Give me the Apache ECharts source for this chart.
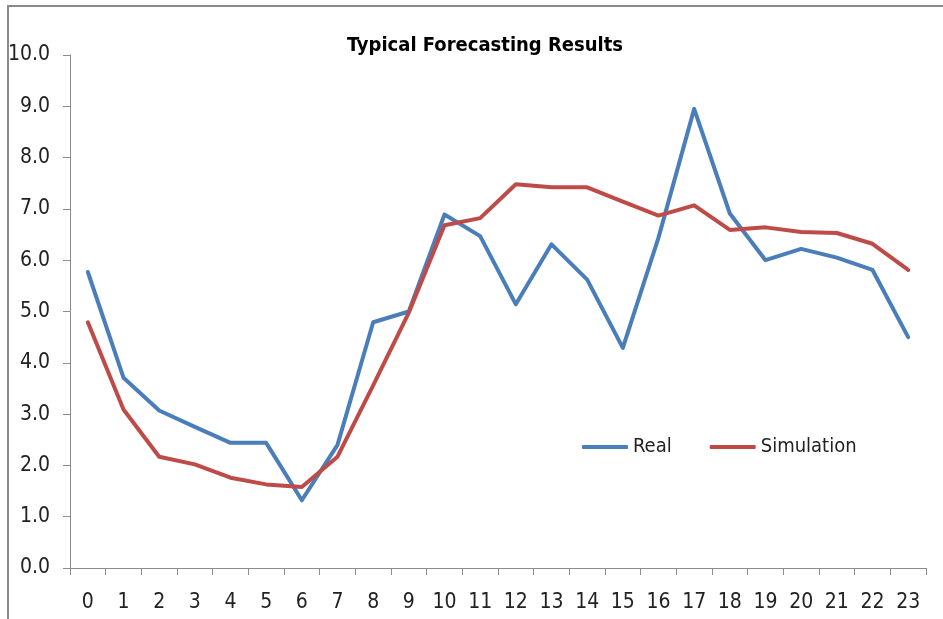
<!DOCTYPE html>
<html>
<head>
<meta charset="utf-8">
<script src="https://cdn.jsdelivr.net/npm/echarts@6/dist/echarts.min.js"></script>
<style>
html,body{margin:0;padding:0;background:#fff;}
#chart{width:943px;height:619px;}
</style>
</head>
<body>
<div id="chart"></div>
<script>
var categories = ['0','1','2','3','4','5','6','7','8','9','10','11','12','13','14','15','16','17','18','19','20','21','22','23'];
var realValues = [5.77, 3.71, 3.07, 2.75, 2.44, 2.44, 1.32, 2.40, 4.79, 5.00, 6.89, 6.47, 5.14, 6.31, 5.62, 4.29, 6.44, 8.95, 6.91, 6.00, 6.22, 6.05, 5.81, 4.50];
var simValues = [4.79, 3.09, 2.17, 2.02, 1.76, 1.63, 1.58, 2.17, 3.56, 4.98, 6.68, 6.82, 7.48, 7.42, 7.42, 7.14, 6.87, 7.07, 6.59, 6.64, 6.55, 6.53, 6.32, 5.81];
var yTicks = {min: 0, max: 10, interval: 1};

var FONT = '"Liberation Sans Narrow", "DejaVu Sans Condensed", "Liberation Sans", sans-serif';
var chart = echarts.init(document.getElementById('chart'), null, {renderer: 'canvas'});
chart.setOption({
  backgroundColor: '#ffffff',
  animation: false,
  title: {
    text: 'Typical Forecasting Results',
    left: 480,
    top: 31,
    textAlign: 'center',
    textStyle: {fontFamily: FONT, fontWeight: 'bold', fontSize: 20, color: '#000'}
  },
  graphic: [
    {type: 'line', shape: {x1: 7, y1: 6, x2: 943, y2: 6}, style: {stroke: '#8a8a8a', lineWidth: 2}},
    {type: 'line', shape: {x1: 8, y1: 6, x2: 8, y2: 619}, style: {stroke: '#8a8a8a', lineWidth: 2}}
  ],
  legend: {
    left: 577,
    top: 432,
    itemWidth: 46,
    itemHeight: 4,
    itemGap: 38,
    icon: 'roundRect',
    textStyle: {fontFamily: FONT, fontSize: 20, color: '#222'},
    data: ['Real', 'Simulation']
  },
  grid: {left: 70, right: 17, top: 55, bottom: 51, containLabel: false},
  xAxis: {
    type: 'category',
    data: categories,
    boundaryGap: true,
    axisLine: {lineStyle: {color: '#8c8c8c', width: 1}},
    axisTick: {show: true, length: 7, lineStyle: {color: '#8c8c8c'}},
    axisLabel: {margin: 24, fontFamily: FONT, fontSize: 21, color: '#222', interval: 0},
    splitLine: {show: false}
  },
  yAxis: {
    type: 'value',
    min: yTicks.min,
    max: yTicks.max,
    interval: yTicks.interval,
    axisLine: {show: true, lineStyle: {color: '#8c8c8c', width: 1}},
    axisTick: {show: true, length: 7, lineStyle: {color: '#8c8c8c'}},
    axisLabel: {margin: 20, fontFamily: FONT, fontSize: 21, color: '#222', formatter: function (v) { return v.toFixed(1); }},
    splitLine: {show: false}
  },
  series: [
    {name: 'Real', type: 'line', data: realValues, showSymbol: false, symbol: 'none', color: '#4a7ebb',
     lineStyle: {width: 4, color: '#4a7ebb', join: 'round', cap: 'round'}},
    {name: 'Simulation', type: 'line', data: simValues, showSymbol: false, symbol: 'none', color: '#be4b48',
     lineStyle: {width: 4, color: '#be4b48', join: 'round', cap: 'round'}}
  ]
});
</script>
</body>
</html>
